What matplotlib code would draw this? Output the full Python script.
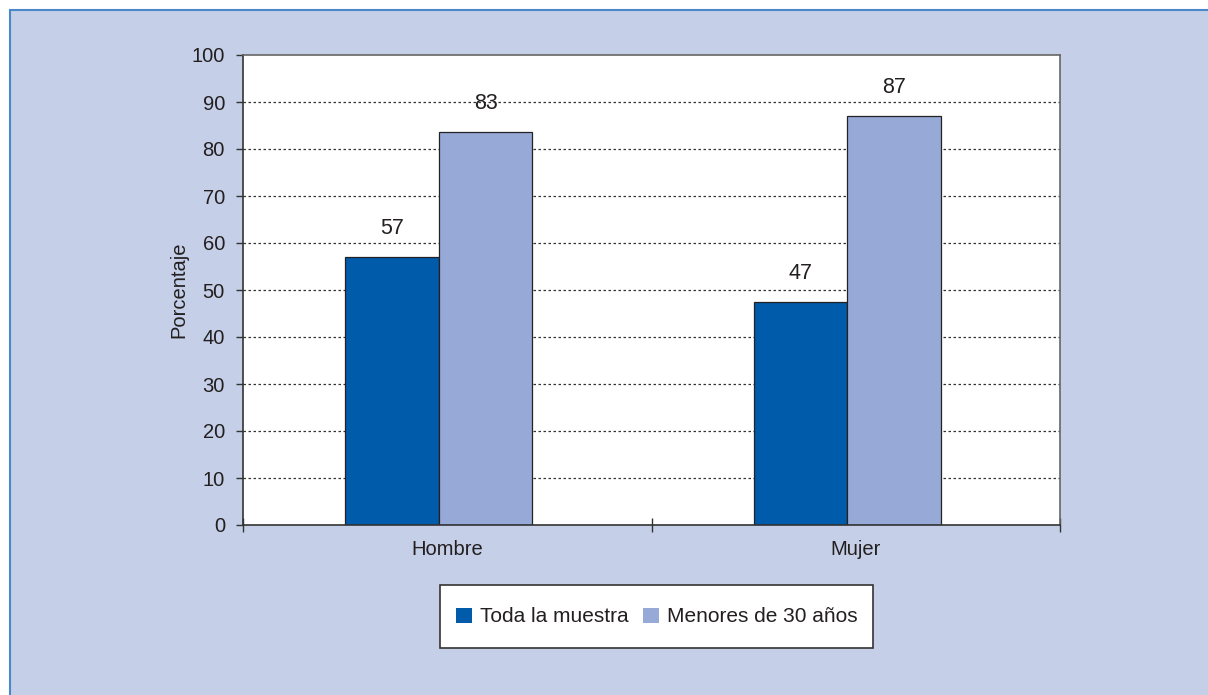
import matplotlib.pyplot as plt
import matplotlib.patches as mpatches

categories = ['Hombre', 'Mujer']
series_names = ['Toda la muestra', 'Menores de 30 años']
toda_muestra = [57.0, 47.4]
menores_30 = [83.6, 87.1]
labels_toda = ['57', '47']
labels_menores = ['83', '87']

dark = '#005BAA'
light = '#97AAD7'
panel = '#C5CFE7'
txt = '#231F20'

plt.rcParams['font.family'] = ['Liberation Sans', 'DejaVu Sans']

fig = plt.figure(figsize=(12.08, 6.95), dpi=100)
fig.patch.set_facecolor('white')

# panel background with blue border on top/left
bg = mpatches.Rectangle((10 / 1208, -0.01), 1.0, 1 - 10 / 695 + 0.01,
                        transform=fig.transFigure, facecolor=panel,
                        edgecolor='#4A88CC', linewidth=1.5, zorder=-10)
fig.patches.append(bg)

ax = fig.add_axes([243 / 1208, 1 - 525 / 695, 817 / 1208, 470 / 695])
ax.set_facecolor('white')

x = range(len(categories))
w = 0.229
off_dark = -0.135
off_light = 0.094
b1 = ax.bar([i + off_dark for i in x], toda_muestra, width=w, color=dark,
            edgecolor='#222222', linewidth=0.9, zorder=3, label=series_names[0])
b2 = ax.bar([i + off_light for i in x], menores_30, width=w, color=light,
            edgecolor='#222222', linewidth=0.9, zorder=3, label=series_names[1])

for bar, lab in zip(b1, labels_toda):
    ax.annotate(lab, (bar.get_x() + bar.get_width() / 2, bar.get_height()),
                xytext=(0, 13), textcoords='offset points', ha='center',
                va='bottom', fontsize=15.5, color=txt, zorder=4)
for bar, lab in zip(b2, labels_menores):
    ax.annotate(lab, (bar.get_x() + bar.get_width() / 2, bar.get_height()),
                xytext=(0, 13), textcoords='offset points', ha='center',
                va='bottom', fontsize=15.5, color=txt, zorder=4)

ax.set_xlim(-0.5, len(categories) - 0.5)
ax.set_ylim(0, 100)
ax.set_yticks(range(0, 101, 10))
ax.tick_params(axis='y', direction='out', length=5, width=1, colors='#333333',
               labelsize=14.5, labelcolor=txt, pad=8)

# grid lines
for yv in range(10, 100, 10):
    ax.axhline(yv, color='#333333', linestyle=(0, (2, 2)), linewidth=0.9, zorder=1)

# x ticks at category boundaries, labels centred
ax.set_xticks([-0.5 + i for i in range(len(categories) + 1)])
ax.set_xticklabels([])
ax.set_xticks(list(x), minor=True)
ax.set_xticklabels(categories, minor=True)
ax.tick_params(axis='x', which='major', direction='inout', length=10, width=1,
               colors='#333333')
ax.tick_params(axis='x', which='minor', length=0, labelsize=14.5,
               labelcolor=txt, pad=11)

for s in ['left', 'bottom']:
    ax.spines[s].set_color('#333333')
    ax.spines[s].set_linewidth(1.2)
for s in ['top', 'right']:
    ax.spines[s].set_color('#666666')
    ax.spines[s].set_linewidth(1.2)
ax.spines['bottom'].set_zorder(5)

ax.set_ylabel('Porcentaje', fontsize=14.5, color=txt, labelpad=2)

# legend box drawn by hand, entries placed by fig.legend without frame
box = mpatches.Rectangle((440 / 1208, 1 - 648 / 695), 433 / 1208, 63 / 695,
                         transform=fig.transFigure, facecolor='white',
                         edgecolor='#333333', linewidth=1.2, zorder=1)
fig.patches.append(box)
handles = [mpatches.Patch(facecolor=dark, edgecolor='none'),
           mpatches.Patch(facecolor=light, edgecolor='none')]
leg = fig.legend(handles, series_names, loc='center',
                 bbox_to_anchor=(657 / 1208, 1 - 617 / 695), ncol=2,
                 fontsize=15, frameon=False,
                 handlelength=0.75, handleheight=0.75, handletextpad=0.4,
                 columnspacing=0.7, borderpad=0.5, labelcolor=txt)
leg.set_zorder(2)

fig.savefig('out.png', dpi=100)
